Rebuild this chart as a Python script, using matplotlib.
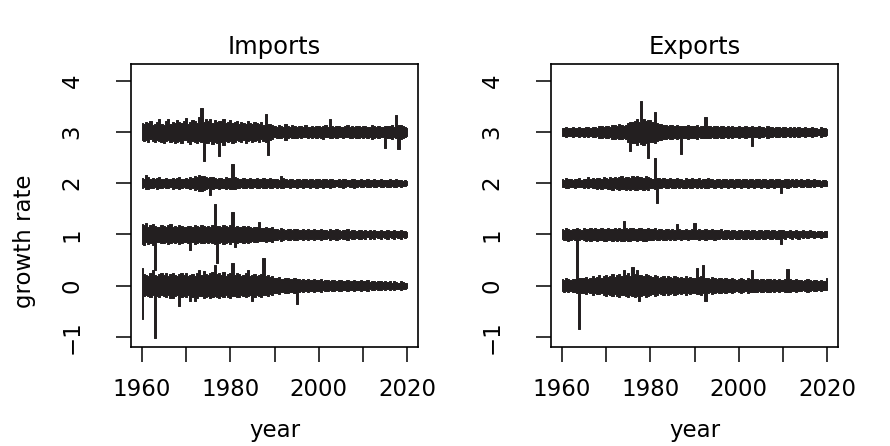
import numpy as np
import matplotlib
matplotlib.use("Agg")
from matplotlib import pyplot as plt

# half-yearly envelope of each series, 1960.0 .. 2020.0
start_year = 1960
step = 0.5
offsets = [0, 1, 2, 3]

# upper / lower edge of each band around its offset, in hundredths
imp0_hi = [35,22,20,18,24,30,20,18,22,25, 20,24,18,22,25,20,18,22,24,20,
           25,18,20,22,18,24,30,20,28,22, 20,24,26,40,22,24,20,26,18,22,
           24,45,20,24,22,18,20,25,30,18, 20,22,18,20,22,53,18,20,16,18,
           15,14,16,13,12,15,14,12,13,14, 12,12,11,13,10,12,11,10,12,11,
           10,12,9,11,10,9,11,10,9,11, 10,9,8,10,9,8,10,9,8,10,
           9,8,10,7,9,8,7,9,8,7, 8,7,9,6,8,7,6,8,7,6,5]
imp0_lo = [-65,-20,-18,-20,-22,-18,-102,-20,-22,-18, -20,-22,-18,-24,-25,-20,-18,-40,-22,-20,
           -22,-18,-30,-22,-30,-24,-20,-20,-24,-22, -20,-24,-22,-20,-22,-24,-20,-22,-18,-22,
           -24,-20,-20,-22,-22,-18,-20,-22,-20,-18, -30,-22,-18,-20,-22,-18,-18,-20,-16,-18,
           -15,-14,-16,-13,-12,-15,-14,-12,-13,-14, -36,-12,-11,-13,-10,-12,-11,-10,-12,-11,
           -10,-12,-9,-11,-10,-9,-11,-10,-9,-11, -10,-9,-8,-10,-9,-8,-10,-9,-8,-10,
           -9,-8,-10,-7,-9,-8,-7,-9,-8,-7, -8,-7,-9,-6,-8,-7,-6,-8,-7,-6,-5]
imp1_hi = [20,18,22,15,18,20,16,15,14,18, 16,14,18,20,15,16,14,18,16,15,
           14,17,16,15,18,16,14,19,16,15, 17,14,18,60,16,16,14,18,16,15,
           18,43,15,16,14,15,17,14,16,15, 13,14,15,24,12,13,14,12,13,14,
           10,11,9,12,10,9,11,10,9,11, 10,9,8,10,9,11,8,9,10,8,
           9,10,8,9,7,10,8,9,10,8, 7,9,8,10,7,8,9,7,8,9,
           7,8,6,9,7,8,6,7,8,6, 7,8,6,7,8,6,7,8,6,7,5]
imp1_lo = [-18,-20,-15,-18,-16,-20,-70,-15,-14,-16, -16,-14,-18,-17,-15,-16,-14,-18,-16,-15,
           -14,-17,-31,-15,-18,-16,-14,-17,-16,-15, -17,-14,-16,-18,-55,-16,-14,-18,-16,-15,
           -18,-15,-25,-16,-14,-15,-17,-14,-16,-15, -13,-14,-15,-12,-12,-13,-14,-12,-13,-14,
           -10,-11,-9,-12,-10,-9,-11,-10,-9,-11, -10,-9,-8,-10,-9,-11,-8,-9,-10,-8,
           -9,-10,-8,-9,-7,-10,-8,-9,-10,-8, -7,-9,-8,-10,-7,-8,-9,-7,-8,-9,
           -7,-8,-6,-9,-7,-8,-6,-7,-8,-6, -7,-8,-6,-7,-8,-6,-7,-8,-6,-7,-5]
imp2_hi = [10,8,16,12,9,10,8,11,12,9, 8,10,9,8,11,9,10,12,9,8,
           10,9,12,10,14,12,16,15,14,12, 10,12,12,10,9,11,10,9,12,10,
           11,37,12,10,9,8,10,9,8,10, 9,8,10,9,8,10,9,8,10,9,
           8,9,7,15,10,8,7,9,8,7, 9,8,7,9,8,7,9,8,7,9,
           8,7,9,8,7,9,8,7,6,8, 7,9,8,6,7,8,9,7,6,8,
           7,6,8,7,6,8,7,6,8,7, 6,7,8,6,7,8,6,7,5,6,4]
imp2_lo = [-9,-8,-12,-12,-9,-10,-8,-11,-10,-9, -8,-10,-9,-8,-11,-9,-10,-12,-9,-8,
           -10,-9,-12,-10,-14,-12,-15,-15,-14,-12, -10,-23,-12,-10,-9,-11,-10,-9,-12,-10,
           -11,-12,-12,-10,-9,-8,-10,-9,-8,-10, -9,-8,-10,-9,-8,-10,-9,-8,-10,-9,
           -8,-9,-7,-10,-10,-8,-7,-9,-8,-7, -9,-8,-7,-9,-8,-7,-9,-8,-7,-9,
           -8,-7,-9,-8,-7,-9,-8,-7,-6,-8, -7,-9,-8,-6,-7,-8,-9,-7,-6,-8,
           -7,-6,-8,-7,-6,-8,-7,-6,-8,-7, -6,-7,-8,-6,-7,-8,-6,-7,-5,-6,-4]
imp3_hi = [18,15,20,18,22,14,16,20,25,16, 14,22,26,15,20,18,24,20,18,22,
           27,16,20,24,22,18,30,47,20,25, 22,26,18,24,20,22,22,25,18,20,
           24,18,20,22,16,20,18,15,22,18, 15,20,18,16,20,14,35,16,16,14,
           12,10,14,12,10,15,12,10,14,11, 10,12,11,9,13,10,9,12,10,11,
           12,10,11,13,9,25,12,10,11,12, 10,9,11,13,10,12,9,11,12,10,
           11,12,10,9,13,11,10,12,9,10, 12,12,11,13,10,33,14,14,12,10,8]
imp3_lo = [-15,-18,-16,-20,-14,-18,-20,-16,-18,-20, -22,-18,-15,-20,-18,-22,-20,-18,-22,-16,
           -16,-20,-24,-18,-20,-22,-18,-20,-57,-22, -22,-18,-24,-20,-22,-47,-20,-25,-18,-20,
           -18,-22,-20,-16,-18,-20,-15,-22,-18,-16, -20,-18,-16,-20,-14,-18,-20,-45,-16,-14,
           -10,-12,-11,-12,-10,-15,-12,-10,-11,-11, -12,-10,-11,-9,-10,-12,-10,-11,-9,-11,
           -10,-11,-13,-9,-10,-12,-11,-10,-11,-9, -10,-11,-9,-10,-12,-11,-9,-11,-12,-10,
           -11,-10,-12,-9,-13,-11,-10,-12,-9,-10, -31,-12,-11,-13,-10,-12,-33,-14,-12,-10,-8]

exp0_hi = [12,10,14,12,10,13,12,90,15,15, 14,16,12,15,18,14,16,20,15,18,
           20,16,18,22,17,20,22,18,30,20, 25,18,37,22,30,20,20,18,22,20,
           18,16,20,18,15,17,19,15,18,16, 15,18,17,14,16,15,18,14,16,15,
           14,35,16,18,40,15,15,13,16,14, 13,15,14,12,15,13,12,14,13,11,
           12,14,13,11,14,12,30,13,12,11, 13,12,11,13,12,10,13,11,12,10,
           11,13,33,12,10,11,12,10,11,9, 10,12,11,9,10,11,9,10,8,9,15]
exp0_lo = [-10,-12,-11,-12,-10,-13,-12,-14,-84,-15, -14,-16,-12,-15,-18,-14,-16,-17,-15,-18,
           -20,-16,-18,-20,-17,-20,-22,-18,-19,-20, -22,-18,-20,-22,-21,-30,-20,-18,-22,-20,
           -18,-16,-20,-18,-15,-17,-19,-15,-18,-16, -15,-18,-17,-14,-16,-15,-18,-14,-16,-15,
           -14,-16,-16,-18,-15,-30,-15,-13,-16,-14, -13,-15,-14,-12,-15,-13,-12,-14,-13,-11,
           -12,-14,-13,-11,-14,-12,-13,-13,-12,-11, -13,-12,-11,-13,-12,-10,-13,-11,-12,-10,
           -11,-13,-12,-12,-10,-11,-12,-10,-11,-9, -10,-12,-11,-9,-10,-11,-9,-10,-8,-9,-8]
exp1_hi = [10,9,12,10,9,11,10,12,11,9, 12,10,11,13,10,12,11,10,13,11,
           10,12,11,10,13,11,12,10,27,12, 11,13,12,10,11,12,13,11,10,12,
           11,10,12,9,10,11,9,10,11,9, 10,9,20,10,9,8,10,9,8,10,
           22,9,10,8,9,10,8,9,10,8, 9,8,10,7,9,8,7,9,8,7,
           9,8,7,9,8,7,9,8,7,9, 8,7,9,8,7,9,8,7,9,8,
           8,7,6,8,7,6,8,7,6,8, 7,6,8,7,6,5,7,6,5,7,6]
exp1_lo = [-9,-10,-11,-12,-10,-9,-11,-12,-10,-9, -11,-12,-10,-13,-11,-10,-12,-11,-10,-13,
           -12,-10,-11,-13,-10,-12,-11,-13,-12,-10, -12,-13,-11,-10,-12,-11,-10,-13,-12,-11,
           -10,-11,-9,-10,-11,-9,-10,-11,-9,-10, -9,-10,-8,-9,-10,-8,-9,-10,-8,-9,
           -9,-8,-10,-9,-8,-10,-9,-8,-9,-10, -8,-9,-7,-8,-9,-7,-8,-9,-7,-8,
           -8,-7,-9,-8,-7,-9,-8,-7,-9,-8, -7,-8,-9,-7,-8,-9,-7,-8,-9,-18,
           -7,-8,-6,-7,-8,-6,-7,-8,-6,-7, -6,-7,-6,-5,-7,-6,-5,-7,-6,-5,-6]
exp2_hi = [8,7,10,9,8,7,9,8,10,7, 8,9,12,8,10,9,11,10,9,12,
           10,9,12,11,13,10,12,14,11,12, 13,11,15,12,14,13,12,11,14,12,
           10,9,50,10,11,9,10,8,9,10, 8,9,10,8,9,7,10,9,8,10,
           9,8,10,7,9,8,10,9,8,7, 9,8,7,9,8,7,9,8,7,9,
           8,7,9,8,7,9,8,7,9,8, 7,9,8,7,9,8,7,9,8,7,
           7,8,9,7,8,6,9,7,8,6, 7,8,6,7,8,6,7,5,6,7,5]
exp2_lo = [-7,-8,-9,-9,-7,-8,-9,-8,-7,-8, -9,-8,-10,-8,-9,-10,-11,-10,-12,-9,
           -10,-12,-11,-13,-10,-12,-14,-11,-12,-13, -11,-13,-12,-14,-13,-12,-11,-14,-12,-13,
           -9,-10,-12,-38,-9,-10,-8,-9,-10,-8, -9,-10,-8,-9,-7,-10,-9,-8,-10,-9,
           -8,-10,-7,-9,-8,-10,-9,-8,-7,-9, -8,-7,-9,-8,-7,-9,-8,-7,-9,-8,
           -7,-9,-8,-7,-9,-8,-7,-9,-8,-7, -9,-8,-7,-9,-8,-7,-9,-8,-7,-20,
           -8,-7,-9,-8,-6,-7,-8,-6,-7,-8, -6,-7,-8,-6,-7,-5,-6,-7,-5,-6,-5]
exp3_hi = [8,7,10,8,7,9,8,7,9,8, 7,9,10,8,9,10,8,11,12,10,
           11,12,10,13,14,12,15,13,12,14, 18,20,20,22,25,20,60,25,22,24,
           24,20,40,18,16,15,14,13,12,14, 13,12,14,11,12,12,11,13,12,11,
           12,13,10,12,11,30,12,11,10,12, 11,10,12,11,9,12,10,11,9,10,
           11,9,10,11,9,10,12,9,10,11, 9,10,8,11,9,10,8,9,10,8,
           9,10,8,9,7,10,8,9,7,8, 9,7,8,9,7,8,6,9,7,8,6]
exp3_lo = [-7,-8,-9,-8,-7,-9,-8,-7,-9,-8, -9,-8,-10,-8,-9,-10,-8,-11,-12,-10,
           -12,-11,-10,-13,-14,-12,-13,-13,-12,-14, -20,-37,-22,-22,-25,-20,-24,-25,-22,-50,
           -20,-20,-22,-18,-16,-15,-14,-13,-12,-14, -13,-12,-14,-11,-43,-12,-11,-13,-12,-11,
           -12,-13,-10,-12,-11,-12,-12,-11,-10,-12, -11,-10,-12,-11,-9,-12,-10,-11,-9,-10,
           -11,-9,-10,-11,-9,-10,-28,-9,-10,-11, -9,-10,-8,-11,-9,-10,-8,-9,-10,-8,
           -9,-10,-8,-9,-7,-10,-8,-9,-7,-8, -9,-7,-8,-9,-7,-8,-6,-9,-7,-8,-6]

titles = ["Imports", "Exports"]
bands = [[(imp0_lo, imp0_hi), (imp1_lo, imp1_hi), (imp2_lo, imp2_hi), (imp3_lo, imp3_hi)],
         [(exp0_lo, exp0_hi), (exp1_lo, exp1_hi), (exp2_lo, exp2_hi), (exp3_lo, exp3_hi)]]
xticks = [1960, 1970, 1980, 1990, 2000, 2010, 2020]
yticks = [-1, 0, 1, 2, 3, 4]

plt.rcParams['font.family'] = ['DejaVu Sans']
fs = 16.5
ink = '#231f20'

fig = plt.figure(figsize=(8.9, 4.46), dpi=100)
lefts = [131/890, 551/890]
for k in range(2):
    ax = fig.add_axes([lefts[k], 99/446, 287/890, 283/446])
    for off, (lo, hi) in zip(offsets, bands[k]):
        lo = off + np.array(lo) / 100.0
        hi = off + np.array(hi) / 100.0
        t = start_year + step*np.arange(len(lo))
        ax.fill_between(t, lo, hi, step='mid', color=ink, lw=0.7)
    ax.set_xlim(1957.6, 2022.4)
    ax.set_ylim(-1.2, 4.33)
    ax.set_xticks(xticks)
    ax.set_xticklabels([str(v) if v % 20 == 0 else '' for v in xticks])
    ax.set_yticks(yticks)
    ax.set_yticklabels(['\u22121' if v < 0 else str(v) for v in yticks])
    ax.tick_params(axis='both', direction='out', length=11, width=1.1,
                   labelsize=fs, pad=11, color='black', labelcolor='black')
    ax.tick_params(axis='y', labelrotation=90, pad=23)
    for lab in ax.get_yticklabels():
        lab.set_va('center')
    for s in ax.spines.values():
        s.set_linewidth(1.2)
    ax.set_title(titles[k], fontsize=17.5, color='black', pad=7)
    cx = lefts[k] + 287/890/2
    fig.text(cx, 9/446, 'year', ha='center', va='baseline', fontsize=fs)
    if k == 0:
        fig.text(lefts[k] - 106/890, 205/446, 'growth rate', rotation=90,
                 ha='center', va='center', fontsize=fs)

fig.savefig('out.png', dpi=100)
